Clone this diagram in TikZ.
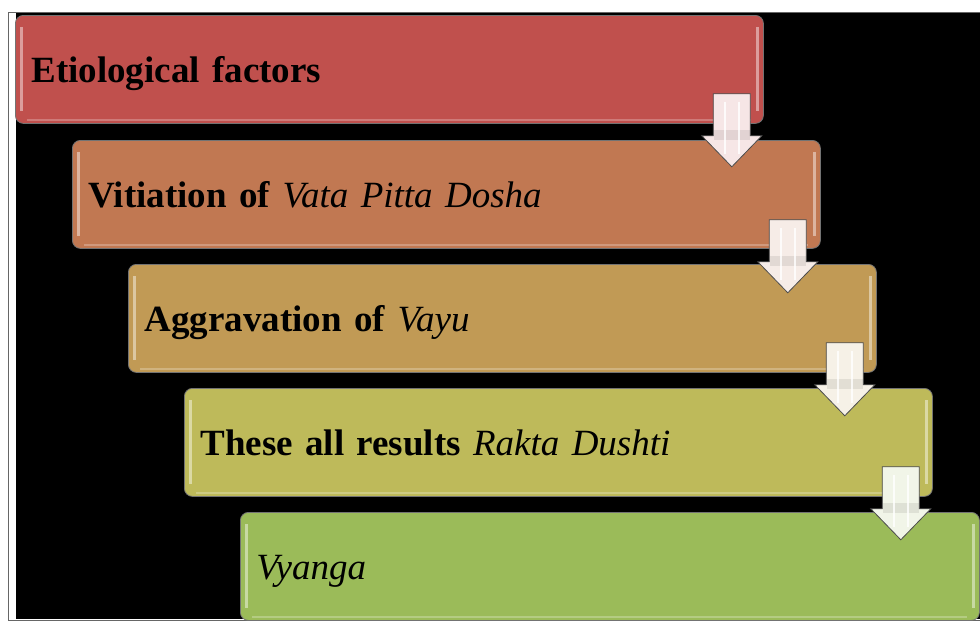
\documentclass[tikz,border=0pt]{standalone}
\usepackage{fontspec}
\setmainfont{Liberation Serif}
\usetikzlibrary{positioning,calc}
\definecolor{StepRed}{HTML}{C0504D}
\definecolor{StepOrange}{HTML}{C17852}
\definecolor{StepGold}{HTML}{C19A55}
\definecolor{StepOlive}{HTML}{BEBA5A}
\definecolor{StepGreen}{HTML}{9BBB59}
\newcommand{\downblock}[2]{%
  \draw[blockarr, fill=white!86!#2] (#1) ++(-18.5,0) -- ++(37,0) -- ++(0,42)
    -- ++(11.5,0) -- ++(-30,31) -- ++(-30,-31) -- ++(11.5,0) -- cycle;
  \fill[black, opacity=0.08] ($(#1)+(-18,36)$) rectangle ++(36,10);
  \draw[white, line width=2pt, opacity=0.8] ($(#1)+(-7,8)$) -- ++(0,52);
  \draw[white, line width=2pt, opacity=0.8] ($(#1)+(7,8)$) -- ++(0,52);
}

\begin{document}
\begin{tikzpicture}[
  x={(1pt,0)}, y={(0,-1pt)},
  stage/.style={draw=black!55, line width=0.8pt, rounded corners=8pt,
                anchor=north west, inner xsep=16pt, inner ysep=0pt,
                text width=716pt, align=left, minimum height=108pt,
                text height=30pt, text depth=4pt,
                font=\bfseries\fontsize{37}{40}\selectfont,
                path picture={
                  \draw[white, opacity=0.45, line width=2.5pt]
                    ([xshift=6pt,yshift=-12pt]path picture bounding box.north west)
                    -- ([xshift=6pt,yshift=12pt]path picture bounding box.south west);
                  \draw[white, opacity=0.45, line width=2.5pt]
                    ([xshift=-6pt,yshift=-12pt]path picture bounding box.north east)
                    -- ([xshift=-6pt,yshift=12pt]path picture bounding box.south east);
                  \draw[white, opacity=0.25, line width=2pt]
                    ([xshift=12pt,yshift=3pt]path picture bounding box.south west)
                    -- ([xshift=-12pt,yshift=3pt]path picture bounding box.south east);
                }},
  blockarr/.style={draw=black!70, line width=0.8pt, line join=miter}
]
\useasboundingbox (0,0) rectangle (980,621);
\fill[white] (0,0) rectangle (980,621);
\draw[black!60, line width=1pt] (8,12) rectangle (990,620);
\fill[black] (16,13) rectangle (990,619);

\node[stage, fill=StepRed] (etio) at (15,15) {Etiological factors};
\node[stage, fill=StepOrange] (vitiation) at (72,140)
  {Vitiation of \textmd{\itshape Vata Pitta Dosha}};
\node[stage, fill=StepGold] (vayu) at (128,264)
  {Aggravation of \textmd{\itshape Vayu}};
\node[stage, fill=StepOlive] (rakta) at (184,388)
  {These all results \textmd{\itshape Rakta Dushti}};
\node[stage, fill=StepGreen, text width=707pt] (vyanga) at (240,512)
  {\textmd{\itshape Vyanga}};

\coordinate (a1) at ($(etio.south east)+(-32,-30)$);
\coordinate (a2) at ($(vitiation.south east)+(-33,-29)$);
\coordinate (a3) at ($(vayu.south east)+(-32,-30)$);
\coordinate (a4) at ($(rakta.south east)+(-32,-30)$);
\downblock{a1}{StepRed}
\downblock{a2}{StepOrange}
\downblock{a3}{StepGold}
\downblock{a4}{StepGreen}
\end{tikzpicture}
\end{document}
